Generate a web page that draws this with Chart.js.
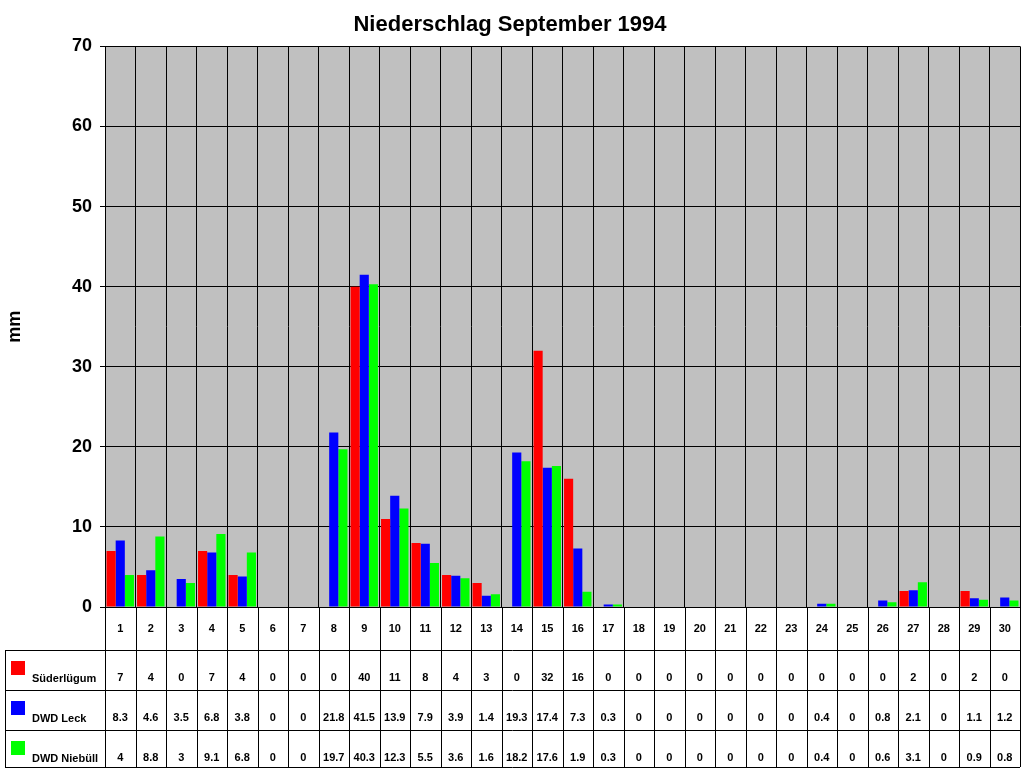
<!DOCTYPE html>
<html>
<head>
<meta charset="utf-8">
<script src="https://cdn.jsdelivr.net/npm/chart.js@4/dist/chart.umd.min.js"></script>
<style>body{margin:0;background:#fff}</style>
</head>
<body>
<canvas id="c" width="1024" height="768"></canvas>
<script>
// Niederschlag September 1994 - three stations, daily values
const days = Array.from({length: 30}, (_, i) => String(i + 1));
const seriesNames = ['Süderlügum', 'DWD Leck', 'DWD Niebüll'];
const seriesColors = ['#FF0000', '#0000FF', '#00FF00'];
const suederluegum = [7,4,0,7,4,0,0,0,40,11,8,4,3,0,32,16,0,0,0,0,0,0,0,0,0,0,2,0,2,0];
const dwdLeck = [8.3,4.6,3.5,6.8,3.8,0,0,21.8,41.5,13.9,7.9,3.9,1.4,19.3,17.4,7.3,0.3,0,0,0,0,0,0,0.4,0,0.8,2.1,0,1.1,1.2];
const dwdNiebuell = [4,8.8,3,9.1,6.8,0,0,19.7,40.3,12.3,5.5,3.6,1.6,18.2,17.6,1.9,0.3,0,0,0,0,0,0,0.4,0,0.6,3.1,0,0.9,0.8];
const allSeries = [suederluegum, dwdLeck, dwdNiebuell];
const yTicks = [0, 10, 20, 30, 40, 50, 60, 70];

const FONT = '"Liberation Sans", Arial, sans-serif';

// gray plot background
const plotBg = {
  id: 'plotBg',
  beforeDraw(chart) {
    const a = chart.chartArea, ctx = chart.ctx;
    ctx.save();
    ctx.fillStyle = '#C0C0C0';
    ctx.fillRect(a.left, a.top, a.right - a.left, a.bottom - a.top);
    ctx.restore();
  }
};

// data table under the plot
const dataTable = {
  id: 'dataTable',
  afterDraw(chart) {
    const ctx = chart.ctx, x = chart.scales.x, a = chart.chartArea;
    const rows = [a.bottom, a.bottom + 43, a.bottom + 83, a.bottom + 123, 767];
    const step = (a.right - a.left) / days.length;
    ctx.save();
    ctx.strokeStyle = '#000';
    ctx.lineWidth = 1;
    ctx.beginPath();
    // horizontal lines
    ctx.moveTo(a.left, rows[0] + 0.5); ctx.lineTo(a.right, rows[0] + 0.5);
    for (let r = 1; r < rows.length; r++) {
      ctx.moveTo(5, rows[r] + 0.5); ctx.lineTo(a.right, rows[r] + 0.5);
    }
    // vertical lines
    for (let i = 0; i <= days.length; i++) {
      const px = Math.round(a.left + i * step) + 0.5;
      ctx.moveTo(px, rows[0]); ctx.lineTo(px, rows[4]);
    }
    ctx.moveTo(5.5, rows[1]); ctx.lineTo(5.5, rows[4]);
    ctx.stroke();

    ctx.fillStyle = '#000';
    ctx.font = 'bold 11px ' + FONT;
    ctx.textAlign = 'center';
    ctx.textBaseline = 'middle';
    days.forEach((d, i) => ctx.fillText(d, x.getPixelForValue(i), rows[0] + 22));
    allSeries.forEach((vals, s) => {
      const ty = rows[s + 1] + 28;
      vals.forEach((v, i) => ctx.fillText(String(v), x.getPixelForValue(i), ty));
    });
    ctx.textAlign = 'left';
    seriesNames.forEach((n, s) => {
      const ty = rows[s + 1] + 28;
      ctx.fillStyle = seriesColors[s];
      ctx.fillRect(11, ty - 17, 14, 14);
      ctx.fillStyle = '#000';
      ctx.fillText(n, 32, ty + 1);
    });
    ctx.restore();
  }
};

new Chart(document.getElementById('c'), {
  type: 'bar',
  data: {
    labels: days,
    datasets: allSeries.map((vals, s) => ({
      label: seriesNames[s],
      data: vals,
      backgroundColor: seriesColors[s],
      categoryPercentage: 0.9,
      barPercentage: 1.0
    }))
  },
  options: {
    responsive: false,
    animation: false,
    layout: { padding: { left: 0, right: 4, top: 0, bottom: 161 } },
    plugins: {
      legend: { display: false },
      tooltip: { enabled: false },
      title: {
        display: true,
        text: 'Niederschlag September 1994',
        color: '#000',
        font: { family: FONT, size: 22, weight: 'bold' },
        padding: { top: 12, bottom: 8 }
      }
    },
    scales: {
      x: {
        ticks: { display: false },
        grid: { color: '#000', offset: true, drawTicks: false },
        border: { color: '#000' }
      },
      y: {
        min: 0, max: 70,
        afterBuildTicks(scale) { scale.ticks = yTicks.map(v => ({ value: v })); },
        afterFit(scale) { scale.width = 105; },
        ticks: { color: '#000', font: { family: FONT, size: 18, weight: 'bold' }, padding: 8 },
        grid: { color: '#000', drawTicks: true, tickLength: 5 },
        border: { color: '#000' },
        title: {
          display: true, text: 'mm', color: '#000',
          font: { family: FONT, size: 18, weight: 'bold' }
        }
      }
    }
  },
  plugins: [plotBg, dataTable]
});
</script>
</body>
</html>
